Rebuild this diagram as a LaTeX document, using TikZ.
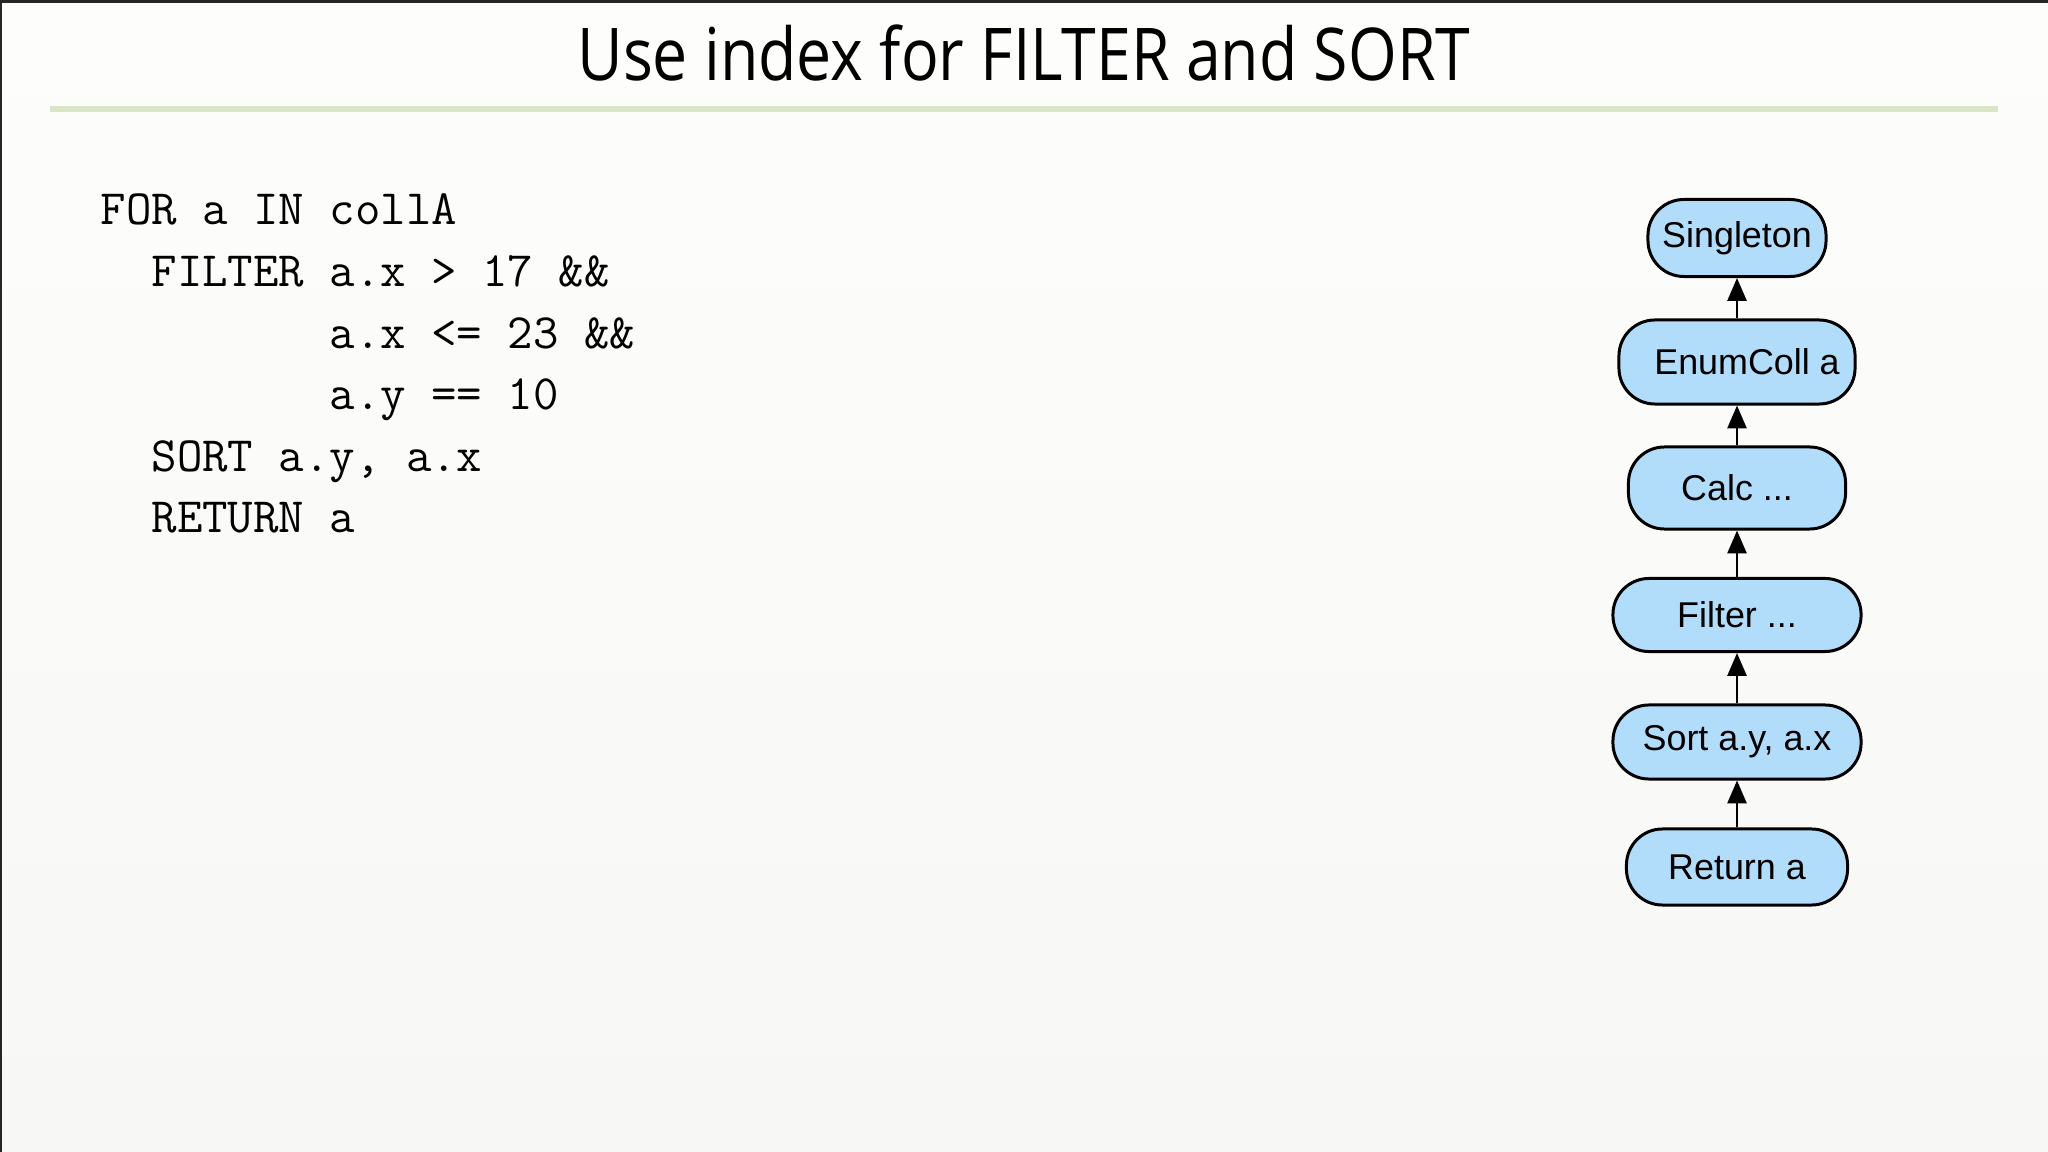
\documentclass[tikz,border=0pt]{standalone}
\usepackage{fontspec}
\setmainfont{Liberation Sans}
\newfontfamily\titlefont[FakeStretch=0.86]{Open Sans}
\usetikzlibrary{arrows.meta}

\definecolor{opblue}{RGB}{178,221,250}
\definecolor{rulegreen}{RGB}{216,229,198}
\definecolor{bgtop}{RGB}{253,254,251}
\definecolor{bgbottom}{RGB}{247,247,245}

\tikzset{
  op/.style={draw, line width=0.85pt, fill=opblue, rounded corners=0.36cm, inner sep=0pt,
    font=\fontsize{10.2}{12}\selectfont},
  flow/.style={-{Triangle[length=6.5pt,width=5.4pt]}, line width=0.75pt},
  codeline/.style={anchor=base west, inner sep=0pt, font=\fontsize{14.05}{16}\ttfamily}
}

\begin{document}
\begin{tikzpicture}[x=0.01cm, y=-0.01cm]
    % Slide background and frame
    \shade[top color=bgtop, bottom color=bgbottom] (0,0) rectangle (2048,1152);
    \useasboundingbox (0,0) rectangle (2048,1152);
    \draw[line width=0.9pt, black!85] (0,1.5) -- (2048,1.5);
    \draw[line width=0.6pt, black!85] (1,0) -- (1,1152);

    % Title
    \node[anchor=base, font=\titlefont\fontsize{20.7}{24}\selectfont] (title) at (1024,81)
        {Use index for FILTER and SORT};
    \draw[rulegreen, line width=1.7pt] (50,109) -- (1998,109);

    % Query
    \foreach \txt [count=\i] in {{FOR a IN collA}, {~~FILTER a.x > 17 \&\&},
        {~~~~~~~~~a.x <= 23 \&\&}, {~~~~~~~~~a.y == 10}, {~~SORT a.y, a.x}, {~~RETURN a}}
        \node[codeline] (code\i) at (100, 225+61.6*\i-61.6) {\txt};

    % Execution plan
    \node[op, minimum width=1.78cm, minimum height=0.77cm] (single) at (1737,238) {Singleton};
    \node[op, minimum width=2.36cm, minimum height=0.84cm] (enum) at (1737,362) {\hspace*{5.7pt}EnumColl a};
    \node[op, minimum width=2.17cm, minimum height=0.82cm] (calc) at (1737,488) {Calc ...};
    \node[op, minimum width=2.48cm, minimum height=0.73cm] (filter) at (1737,615) {Filter ...};
    \node[op, minimum width=2.48cm, minimum height=0.74cm] (sort) at (1737,742) {Sort a.y, a.x};
    \node[op, minimum width=2.21cm, minimum height=0.76cm] (ret) at (1737,867) {Return a};

    \foreach \a/\b in {ret/sort, sort/filter, filter/calc, calc/enum, enum/single}
        \draw[flow] (\a) -- (\b);
\end{tikzpicture}
\end{document}
